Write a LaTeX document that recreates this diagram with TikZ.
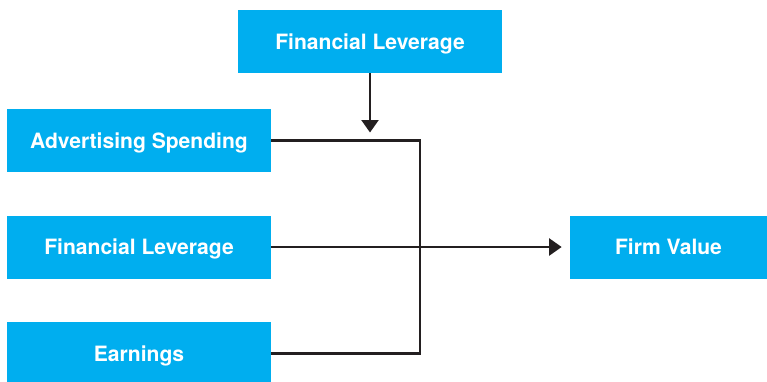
\documentclass[tikz,border=0pt]{standalone}
\usepackage{fontspec}
\setmainfont{TeX Gyre Heros}
\usepackage{xcolor}
\usepackage{tikz}
\usetikzlibrary{arrows.meta}
\definecolor{boxColor}{RGB}{0, 174, 239}
\definecolor{lineColor}{RGB}{35, 31, 32}

\begin{document}
\begin{tikzpicture}[
    factor/.style={fill=boxColor, minimum width=5.28cm, minimum height=1.26cm, text=white, font=\fontsize{12}{14}\selectfont\bfseries, inner sep=0pt, text depth=0pt},
    link/.style={line width=1.3pt, lineColor},
    arrow/.style={link, -{Triangle[length=0.25cm, width=0.34cm]}, shorten >=0.16cm}
]
    \useasboundingbox (0,0) rectangle (15.34,-7.62);

    \node[factor] (lev-top) at (7.40,-0.83) {Financial Leverage};
    \node[factor] (adv) at (2.78,-2.81) {Advertising Spending};
    \node[factor] (lev) at (2.78,-4.94) {Financial Leverage};
    \node[factor] (earn) at (2.78,-7.07) {Earnings};
    \node[factor, minimum width=3.94cm] (firm) at (13.37,-4.94) {Firm Value};

    % bracket joining the outer factors
    \coordinate (bend) at (8.40,-2.81);
    \draw[link] (adv.east) -- (bend) |- (earn.east);

    \draw[arrow] (lev.east) -- (firm.west);
    \draw[arrow] (lev-top.south) -- (lev-top.south |- bend);
\end{tikzpicture}
\end{document}
